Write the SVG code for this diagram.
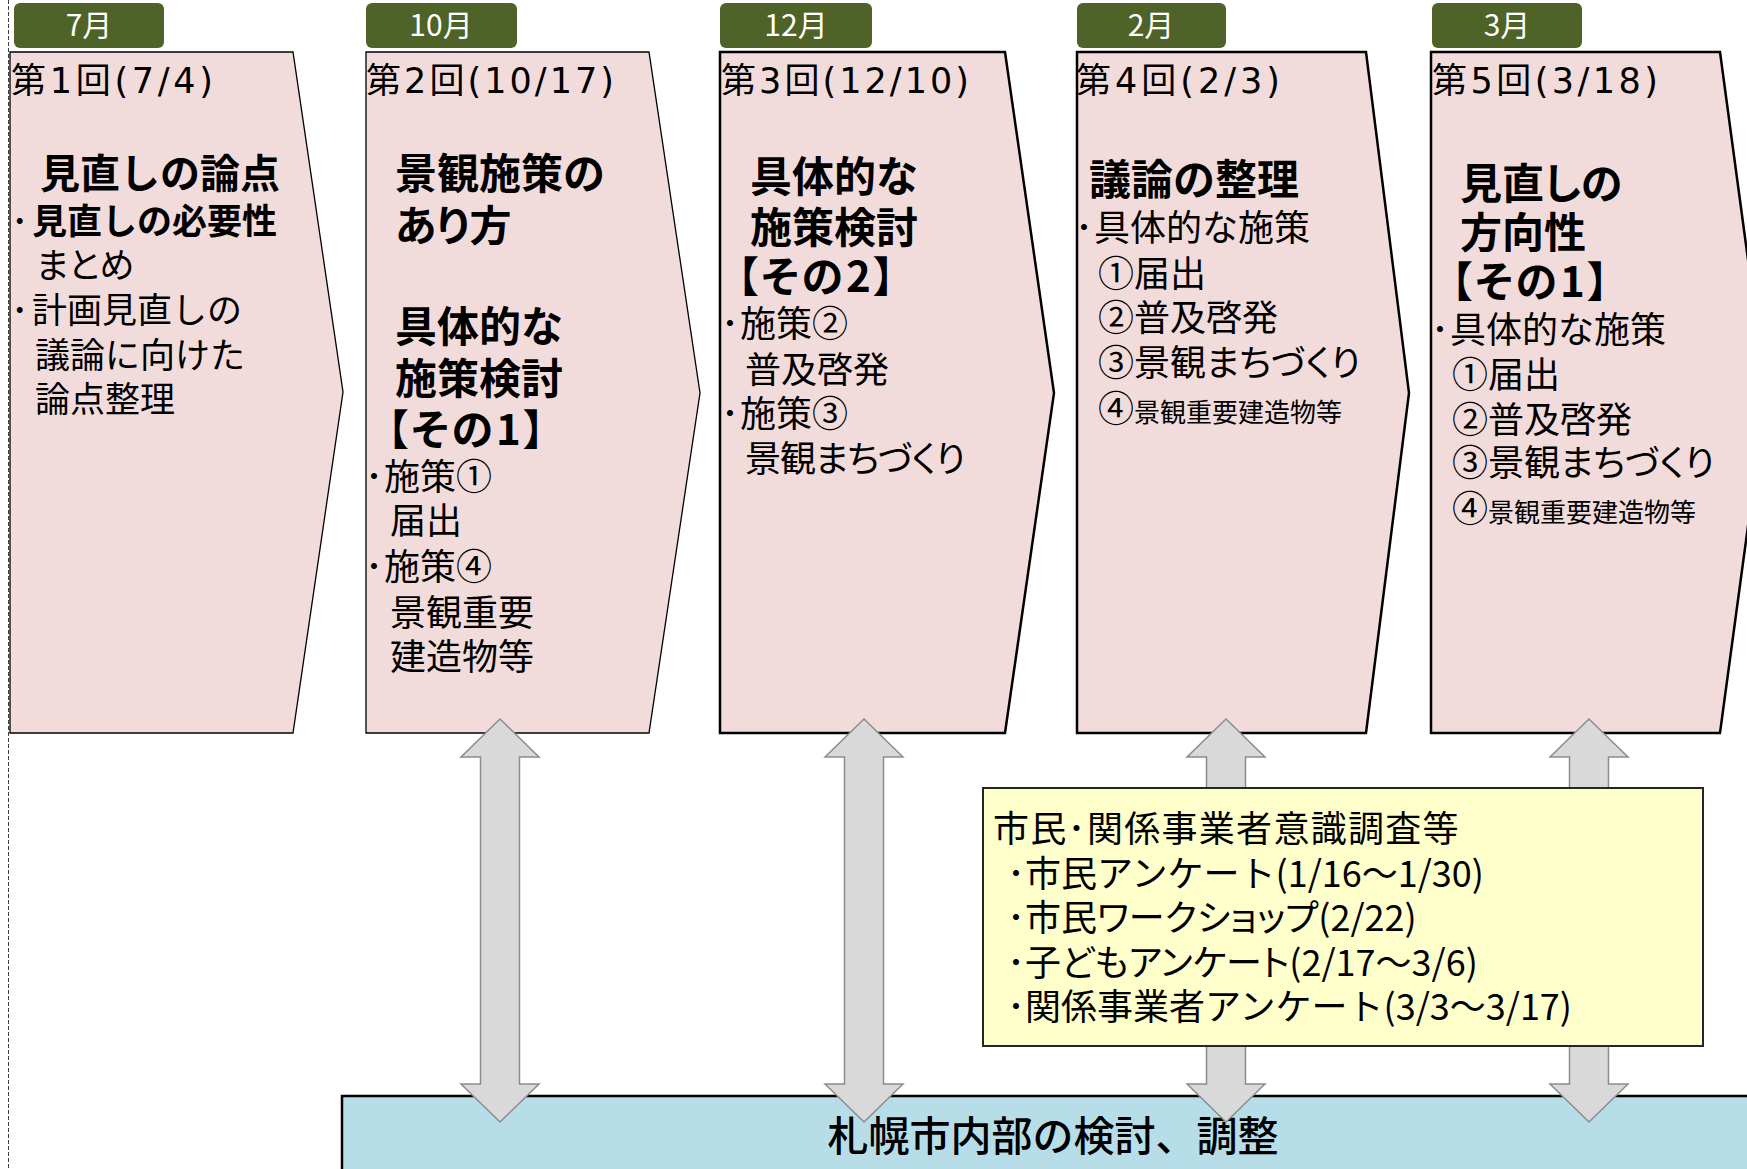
<svg xmlns="http://www.w3.org/2000/svg" xmlns:xlink="http://www.w3.org/1999/xlink" width="1747" height="1169" viewBox="0 0 1747 1169">
<style>
text { font-family: "Noto Sans CJK JP", "Noto Sans", sans-serif; fill: #000; }
.pent { fill: #F2DCDB; stroke: #000; stroke-linejoin: miter; }
.thin { stroke-width: 1.3; }
.thick { stroke-width: 2.5; }
.tab { fill: #4F6228; }
.tabt { fill: #fff; font-size: 30px; text-anchor: middle; }
.hd { font-size: 35px; font-family: "DejaVu Sans", "Noto Sans CJK JP", sans-serif; }
.tt { font-size: 42px; font-weight: bold; }
.tt1 { font-size: 40px; font-weight: bold; }
.b { font-size: 36px; }
.b1 { font-size: 35px; }
.sm { font-size: 26px; }
.p { font-feature-settings: "palt"; }
.br { letter-spacing: 3px; }
.arr { fill: #D9D9D9; stroke: #8C8C8C; stroke-width: 1.5; }
</style>
<defs>
<path id="dbl" d="M0,719 L39,757 L19.5,757 L19.5,1084 L39,1084 L0,1122 L-39,1084 L-19.5,1084 L-19.5,757 L-39,757 Z"/>
</defs>
<rect width="1747" height="1169" fill="#fff"/>
<line x1="8.5" y1="0" x2="8.5" y2="1169" stroke="#404040" stroke-width="1" stroke-dasharray="4 2"/>

<g id="node1">
<rect class="tab" x="14" y="3" width="150" height="45" rx="6"/>
<text class="tabt" x="89" y="36">7月</text>
<polygon class="pent thin" points="10,52 293,52 343,392 293,733 10,733"/>
<text class="hd" x="11" y="93" textLength="202" lengthAdjust="spacing">第1回(7/4)</text>
<text class="b1"><tspan class="tt1" x="40" y="188">見直しの論点</tspan><tspan x="11" y="234">･</tspan><tspan x="32" font-weight="bold">見直しの必要性</tspan><tspan class="p" x="36" y="278">まとめ</tspan><tspan x="11" y="323">･</tspan><tspan x="32">計画見直しの</tspan><tspan x="35" y="368">議論に向けた</tspan><tspan x="35" y="412">論点整理</tspan></text>
</g>

<g id="node2">
<rect class="tab" x="366" y="3" width="151" height="45" rx="6"/>
<text class="tabt" x="441" y="36">10月</text>
<polygon class="pent thin" points="366,52 649,52 700,393 649,733 366,733"/>
<text class="hd" x="366" y="93" textLength="248" lengthAdjust="spacing">第2回(10/17)</text>
<text class="b"><tspan class="tt" x="395" y="189">景観施策の</tspan><tspan class="tt p" x="395" y="241">あり方</tspan><tspan class="tt" x="395" y="342">具体的な</tspan><tspan class="tt" x="395" y="394">施策検討</tspan><tspan class="tt p br" x="387" y="445">【その1】</tspan><tspan x="365" y="490">･</tspan><tspan x="384">施策①</tspan><tspan x="390" y="534">届出</tspan><tspan x="365" y="580">･</tspan><tspan x="384">施策④</tspan><tspan x="390" y="626">景観重要</tspan><tspan x="390" y="670">建造物等</tspan></text>
</g>

<g id="node3">
<rect class="tab" x="720" y="3" width="152" height="45" rx="6"/>
<text class="tabt" x="796" y="36">12月</text>
<polygon class="pent thick" points="720,52 1005,52 1054,393 1005,733 720,733"/>
<text class="hd" x="721" y="93" textLength="248" lengthAdjust="spacing">第3回(12/10)</text>
<text class="b"><tspan class="tt" x="750" y="192">具体的な</tspan><tspan class="tt" x="750" y="243">施策検討</tspan><tspan class="tt p br" x="737" y="292">【その2】</tspan><tspan x="721" y="337">･</tspan><tspan x="740">施策②</tspan><tspan x="745" y="383">普及啓発</tspan><tspan x="721" y="427">･</tspan><tspan x="740">施策③</tspan><tspan class="p" x="745" y="472" letter-spacing="-1">景観まちづくり</tspan></text>
</g>

<g id="node4">
<rect class="tab" x="1077" y="3" width="149" height="45" rx="6"/>
<text class="tabt" x="1151" y="36">2月</text>
<polygon class="pent thick" points="1077,52 1366,52 1409,393 1366,733 1077,733"/>
<text class="hd" x="1076" y="93" textLength="204" lengthAdjust="spacing">第4回(2/3)</text>
<text class="b"><tspan class="tt" x="1089" y="195">議論の整理</tspan><tspan x="1075" y="241">･</tspan><tspan x="1094">具体的な施策</tspan><tspan x="1098" y="287">①届出</tspan><tspan x="1098" y="331">②普及啓発</tspan><tspan class="p" x="1098" y="376">③景観まちづくり</tspan><tspan x="1098" y="422">④</tspan><tspan class="sm">景観重要建造物等</tspan></text>
</g>

<g id="node5">
<rect class="tab" x="1432" y="3" width="150" height="45" rx="6"/>
<text class="tabt" x="1507" y="36">3月</text>
<polygon class="pent thick" points="1431,52 1720,52 1766,393 1720,733 1431,733"/>
<text class="hd" x="1432" y="93" textLength="226" lengthAdjust="spacing">第5回(3/18)</text>
<text class="b"><tspan class="tt p" x="1460" y="199">見直しの</tspan><tspan class="tt" x="1460" y="248">方向性</tspan><tspan class="tt p br" x="1451" y="297">【その1】</tspan><tspan x="1431" y="343">･</tspan><tspan x="1450">具体的な施策</tspan><tspan x="1452" y="388">①届出</tspan><tspan x="1452" y="433">②普及啓発</tspan><tspan class="p" x="1452" y="476">③景観まちづくり</tspan><tspan x="1452" y="522">④</tspan><tspan class="sm">景観重要建造物等</tspan></text>
</g>

<g id="internal">
<rect x="342" y="1096" width="1430" height="120" fill="#B7DEE8" stroke="#000" stroke-width="2.5"/>
<text x="1053" y="1151" font-size="41" font-weight="500" text-anchor="middle">札幌市内部の検討、調整</text>
</g>

<g id="connectors">
<use xlink:href="#dbl" href="#dbl" class="arr" x="500"/>
<use xlink:href="#dbl" href="#dbl" class="arr" x="864"/>
<use xlink:href="#dbl" href="#dbl" class="arr" x="1226"/>
<use xlink:href="#dbl" href="#dbl" class="arr" x="1589"/>
</g>

<g id="survey">
<rect x="983" y="788" width="720" height="258" fill="#FFFFCC" stroke="#262626" stroke-width="2"/>
<text class="b"><tspan x="993" y="842" letter-spacing="1.3">市民･関係事業者意識調査等</tspan><tspan x="1007" y="887">･市民アンケート(1/16～1/30)</tspan><tspan class="p" x="1007" y="931">･市民ワークショップ(2/22)</tspan><tspan class="p" x="1007" y="976">･子どもアンケート(2/17～3/6)</tspan><tspan x="1007" y="1020">･関係事業者アンケート(3/3～3/17)</tspan></text>
</g>
</svg>
